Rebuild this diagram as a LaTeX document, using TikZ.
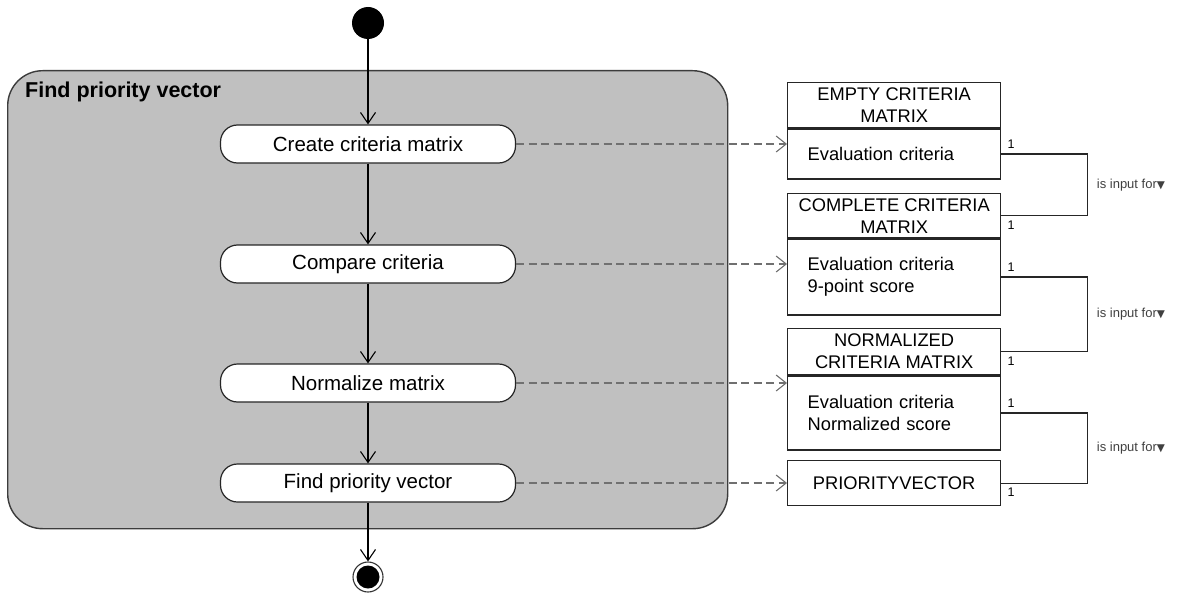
\documentclass[tikz,border=0pt]{standalone}
\usepackage{fontspec}
\setmainfont{Liberation Sans}
\newfontfamily\symfont{DejaVu Sans}
\usetikzlibrary{arrows.meta,calc}
\definecolor{groupfill}{HTML}{C0C0C0}
\definecolor{groupline}{HTML}{3C3C3C}
\definecolor{depline}{HTML}{707070}
\begin{document}
\begin{tikzpicture}[x=1pt,y=-1pt,
  groupbox/.style={draw=groupline,line width=1.4pt,fill=groupfill,rounded corners=35pt,inner sep=0pt},
  act/.style={draw=black!85,line width=1.2pt,fill=white,rounded corners=17pt,
    minimum width=295pt,minimum height=38pt,inner sep=0pt,
    font=\fontsize{20.5}{24}\selectfont},
  flow/.style={line width=1.1pt,-{Straight Barb[length=11pt,width=15pt,line width=1.1pt]}},
  dep/.style={draw=depline,line width=1.1pt,dash pattern=on 8pt off 4.5pt,
    -{Straight Barb[length=10pt,width=16pt,line width=1.1pt]}},
  hdr/.style={draw=black!85,line width=1.3pt,fill=white,minimum width=213pt,inner sep=0pt,
    align=center,font=\fontsize{18.3}{22}\selectfont},
  bodyb/.style={draw=black!85,line width=1.3pt,fill=white,minimum width=213pt,inner xsep=20pt,inner ysep=0pt,
    text width=173pt,align=left,font=\fontsize{18.3}{22}\selectfont},
  assoc/.style={line width=1.2pt,draw=black!85},
  mult/.style={font=\fontsize{12.5}{14}\selectfont,inner sep=1pt},
  lab/.style={font=\fontsize{13}{15}\selectfont,inner sep=0pt,text=black!75}]
\useasboundingbox (0,0) rectangle (1188,599);

% activity group
\node[groupbox,minimum width=720pt,minimum height=458pt,anchor=north west] (grp) at (7,70) {};
\node[anchor=base west,font=\fontsize{21.5}{25}\selectfont\bfseries,inner sep=0pt] (grptitle) at (25,98) {Find priority vector};

% initial and final nodes
\node[circle,fill=black,minimum size=32pt,inner sep=0pt] (start) at (368,23) {};
\node[circle,draw=black!80,line width=1.1pt,minimum size=30pt,inner sep=0pt] (stop) at (368,577) {};
\node[circle,fill=black,minimum size=23pt,inner sep=0pt] (stopdot) at (368,577) {};

% actions
\node[act] (a1) at (368,144) {Create criteria matrix};
\node[act] (a2) at (368,264) {Compare criteria};
\node[act] (a3) at (368,383) {Normalize matrix};
\node[act] (a4) at (368,483) {Find priority vector};

\draw[flow] (start) -- (a1);
\draw[flow] (a1) -- (a2);
\draw[flow] (a2) -- (a3);
\draw[flow] (a3) -- (a4);
\draw[flow] (a4) -- (stop);

% data objects
\node[hdr,minimum height=45pt,anchor=north west] (b1h) at (787,82) {EMPTY CRITERIA\\MATRIX};
\node[bodyb,minimum height=50pt,anchor=north] (b1b) at (b1h.south) {Evaluation criteria};

\node[hdr,minimum height=44pt,anchor=north west] (b2h) at (787,193) {COMPLETE CRITERIA\\MATRIX};
\node[bodyb,minimum height=76pt,anchor=north] (b2b) at (b2h.south) {Evaluation criteria\\9-point score};

\node[hdr,minimum height=46pt,anchor=north west] (b3h) at (787,328) {NORMALIZED\\CRITERIA MATRIX};
\node[bodyb,minimum height=74pt,anchor=north] (b3b) at (b3h.south) {Evaluation criteria\\Normalized score};

\node[hdr,minimum height=45pt,anchor=north west] (b4) at (787,460) {PRIORITYVECTOR};

% object flows
\draw[dep] (a1.east) -- (a1.east -| b1b.west);
\draw[dep] (a2.east) -- (a2.east -| b2b.west);
\draw[dep] (a3.east) -- (a3.east -| b3b.west);
\draw[dep] (a4.east) -- (a4.east -| b4.west);

% associations
\draw[assoc] (b1b.east) -- ++(86,0) |- (b2h.east)
  node[pos=0.25,anchor=west,lab,xshift=9pt] (l1) {is input for{\symfont\fontsize{10.5}{12}\selectfont▼}};
\draw[assoc] (b2b.east) -- ++(86,0) |- (b3h.east)
  node[pos=0.25,anchor=west,lab,xshift=9pt] (l2) {is input for{\symfont\fontsize{10.5}{12}\selectfont▼}};
\draw[assoc] (b3b.east) -- ++(86,0) |- (b4.east)
  node[pos=0.25,anchor=west,lab,xshift=9pt] (l3) {is input for{\symfont\fontsize{10.5}{12}\selectfont▼}};

% multiplicities
\node[mult,anchor=south west] (m1) at ($(b1b.east)+(5,-4)$) {1};
\node[mult,anchor=north west] (m2) at ($(b2h.east)+(5,4)$) {1};
\node[mult,anchor=south west] (m3) at ($(b2b.east)+(5,-4)$) {1};
\node[mult,anchor=north west] (m4) at ($(b3h.east)+(5,4)$) {1};
\node[mult,anchor=south west] (m5) at ($(b3b.east)+(5,-4)$) {1};
\node[mult,anchor=north west] (m6) at ($(b4.east)+(5,4)$) {1};
\end{tikzpicture}
\end{document}
